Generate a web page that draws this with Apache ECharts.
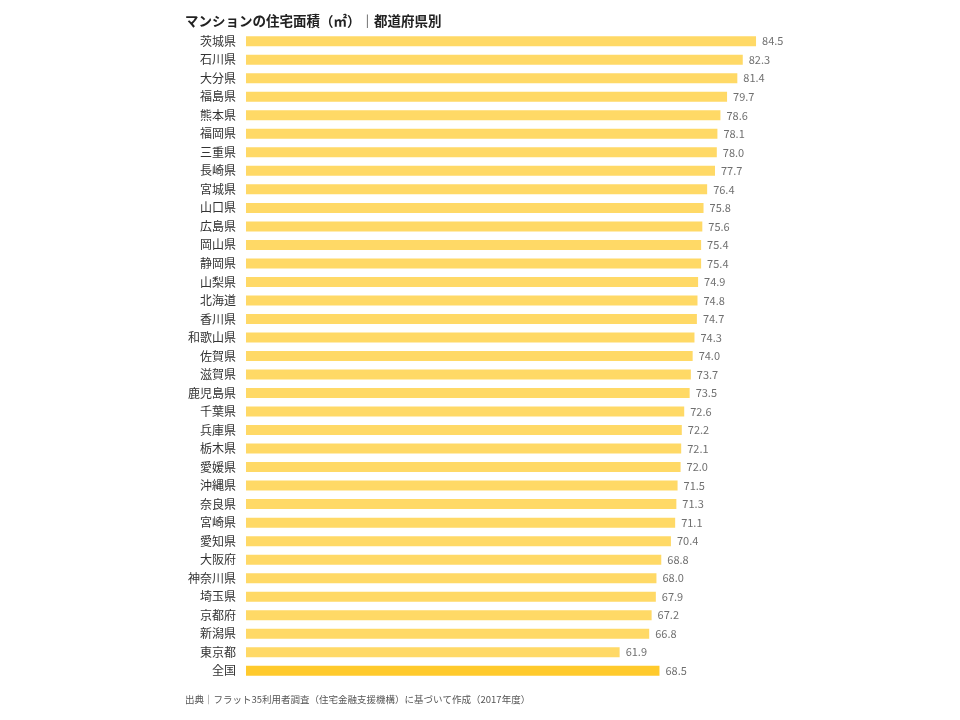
<!DOCTYPE html>
<html><head><meta charset="utf-8">
<script src="https://cdn.jsdelivr.net/npm/echarts@6/dist/echarts.min.js"></script>
<style>html,body{margin:0;padding:0;background:#fff}#c{width:960px;height:720px}</style>
</head><body><div id="c"></div>
<script>
const categories = ["茨城県","石川県","大分県","福島県","熊本県","福岡県","三重県","長崎県","宮城県","山口県","広島県","岡山県","静岡県","山梨県","北海道","香川県","和歌山県","佐賀県","滋賀県","鹿児島県","千葉県","兵庫県","栃木県","愛媛県","沖縄県","奈良県","宮崎県","愛知県","大阪府","神奈川県","埼玉県","京都府","新潟県","東京都","全国"];
const values = [84.5,82.3,81.4,79.7,78.6,78.1,78.0,77.7,76.4,75.8,75.6,75.4,75.4,74.9,74.8,74.7,74.3,74.0,73.7,73.5,72.6,72.2,72.1,72.0,71.5,71.3,71.1,70.4,68.8,68.0,67.9,67.2,66.8,61.9,68.5];
const highlight = "全国";
const chart = echarts.init(document.getElementById('c'));
const font = "'Noto Sans CJK JP', sans-serif";
chart.setOption({
  animation: false,
  title: [{
    text: "マンションの住宅面積（㎡）｜都道府県別",
    left: 180, top: 9,
    textStyle: {fontFamily: font, fontSize: 13.5, fontWeight: 'bold', color: '#222'}
  },{
    text: "出典｜フラット35利用者調査（住宅金融支援機構）に基づいて作成（2017年度）",
    left: 180, top: 690,
    textStyle: {fontFamily: font, fontSize: 9.5, fontWeight: 'normal', color: '#555'}
  }],
  grid: {left: 246, top: 32, height: 648, width: 603.6, containLabel: false},
  xAxis: {type: 'value', min: 0, max: 100, show: false},
  yAxis: {
    type: 'category', data: categories, inverse: true,
    axisLine: {show: false}, axisTick: {show: false},
    axisLabel: {fontFamily: font, fontSize: 12, color: '#333', margin: 10}
  },
  series: [{
    type: 'bar', barWidth: 10,
    data: values.map((v, i) => ({
      value: v,
      itemStyle: {color: categories[i] === highlight ? '#FFCA2C' : '#FFD966'}
    })),
    label: {show: true, position: 'right', distance: 6,
      formatter: p => p.value.toFixed(1),
      fontFamily: font, fontSize: 11, color: '#707070'}
  }]
});
</script></body></html>
